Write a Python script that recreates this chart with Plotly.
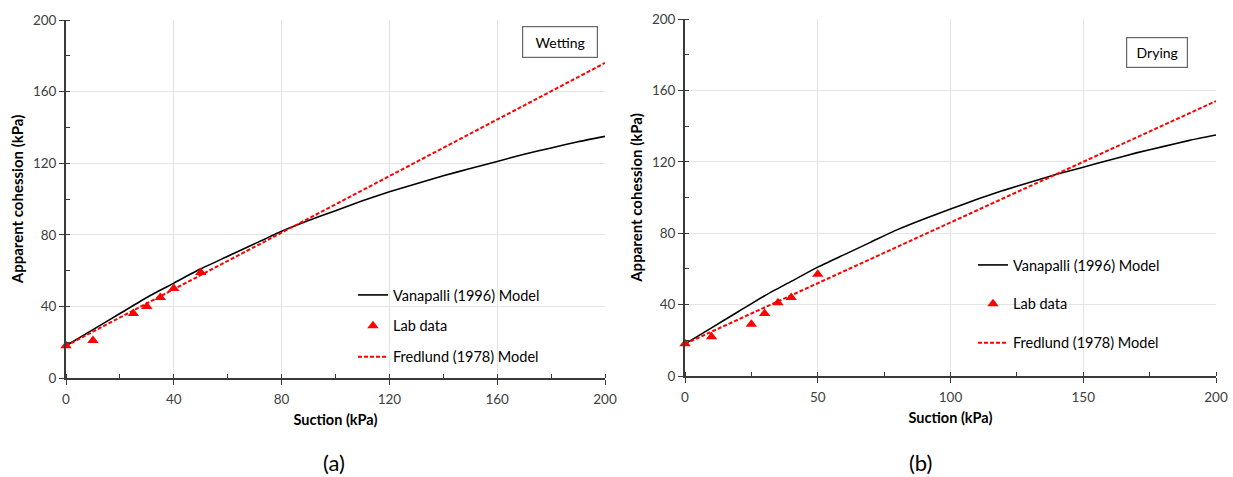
import plotly.graph_objects as go

# ---------------- data ----------------
suction_lab = [0, 10, 25, 30, 35, 40, 50]
cohesion_lab_wetting = [18, 21, 36, 40, 45, 50, 59]
cohesion_lab_drying = [18, 22, 29, 35, 41, 44, 57]

suction_model = [0, 10, 20, 30, 40, 50, 60, 70, 80, 90, 100, 110, 120, 130, 140,
                 150, 160, 170, 180, 190, 200]
cohesion_vanapalli = [18, 27, 36, 45, 53, 61, 68, 75, 82, 88, 93.5, 99, 104, 108.5,
                      113, 117, 121, 125, 128.5, 132, 135]

suction_fredlund = [0, 200]
cohesion_fredlund_wetting = [18, 176]
cohesion_fredlund_drying = [18, 154]

x_ticks_wetting = [0, 40, 80, 120, 160, 200]
x_ticks_drying = [0, 50, 100, 150, 200]
y_ticks = [0, 40, 80, 120, 160, 200]

# ---------------- figure ----------------
W, H = 1233, 477
FONT = "Lato"
TICKCOL = "#404040"
AXCOL = "#3a3a3a"
GRIDCOL = "#e4e4e4"

fig = go.Figure()

def add_panel(xa, ya, lab_y, fred_y, legend):
    fig.add_trace(go.Scatter(
        x=suction_model, y=cohesion_vanapalli, mode="lines",
        line=dict(color="black", width=1.6, shape="spline", smoothing=0.5),
        name="Vanapalli (1996) Model", xaxis=xa, yaxis=ya,
        legend=legend, legendgroup=legend + "v"))
    fig.add_trace(go.Scatter(
        x=suction_lab, y=lab_y, mode="markers",
        marker=dict(symbol="triangle-up", color="#ff0000", size=10),
        name="Lab data", xaxis=xa, yaxis=ya, cliponaxis=False,
        legend=legend, legendgroup=legend + "l"))
    fig.add_trace(go.Scatter(
        x=suction_fredlund, y=fred_y, mode="lines",
        line=dict(color="#ff0000", width=2, dash="4px,2px"),
        name="Fredlund (1978) Model", xaxis=xa, yaxis=ya,
        legend=legend, legendgroup=legend + "f"))

add_panel("x", "y", cohesion_lab_wetting, cohesion_fredlund_wetting, "legend")
add_panel("x2", "y2", cohesion_lab_drying, cohesion_fredlund_drying, "legend2")

def px(x):
    return x / W

def py(y):
    return 1 - y / H

common_x = dict(range=[0, 200], showgrid=True, gridcolor=GRIDCOL, gridwidth=1,
                showline=True, linecolor=AXCOL, linewidth=1.8,
                ticks="outside", ticklen=5, tickwidth=1, tickcolor=AXCOL,
                tickfont=dict(family=FONT, size=13.5, color=TICKCOL),
                ticklabelstandoff=3,
                zeroline=False, mirror=False, automargin=False,
                title=dict(text="<b>Suction (kPa)</b>",
                           font=dict(family=FONT, size=14.5, color="black"),
                           standoff=9))
common_y = dict(range=[0, 200], showgrid=True, gridcolor=GRIDCOL, gridwidth=1,
                showline=True, linecolor=AXCOL, linewidth=1.8,
                ticks="outside", ticklen=5, tickwidth=1, tickcolor=AXCOL,
                tickfont=dict(family=FONT, size=13.5, color=TICKCOL),
                tickvals=y_ticks, automargin=False,
                minor=dict(dtick=20, ticks="inside", ticklen=4, tickcolor=AXCOL,
                           showgrid=False),
                zeroline=False,
                title=dict(text="<b>Apparent cohession (kPa)</b>",
                           font=dict(family=FONT, size=15, color="black"),
                           standoff=6))

fig.update_layout(
    width=W, height=H,
    margin=dict(l=0, r=0, t=0, b=0, autoexpand=False),
    paper_bgcolor="white", plot_bgcolor="white",
    showlegend=True,
    xaxis=dict(common_x, domain=[px(66), px(605)], anchor="y",
               tickvals=x_ticks_wetting,
               minor=dict(dtick=20, ticks="inside", ticklen=4, tickcolor=AXCOL,
                          showgrid=False)),
    yaxis=dict(common_y, domain=[py(378), py(20)], anchor="x"),
    xaxis2=dict(common_x, domain=[px(685), px(1216)], anchor="y2",
                tickvals=x_ticks_drying,
                minor=dict(dtick=25, ticks="inside", ticklen=4, tickcolor=AXCOL,
                           showgrid=False)),
    yaxis2=dict(common_y, domain=[py(376), py(19)], anchor="x2"),
    legend=dict(x=px(353), y=py(279), xanchor="left", yanchor="top",
                bgcolor="rgba(0,0,0,0)", itemwidth=30, tracegroupgap=9,
                traceorder="grouped",
                font=dict(family=FONT, size=14.5, color="black")),
    legend2=dict(x=px(973), y=py(249), xanchor="left", yanchor="top",
                 bgcolor="rgba(0,0,0,0)", itemwidth=30, tracegroupgap=17,
                 traceorder="grouped",
                 font=dict(family=FONT, size=14.5, color="black")),
    annotations=[
        dict(text="Wetting", xref="paper", yref="paper", x=px(560), y=py(42),
             xanchor="center", yanchor="middle", showarrow=False,
             font=dict(family=FONT, size=14, color="black"),
             width=70, height=26, bordercolor="#666666", borderwidth=1.2,
             borderpad=2, bgcolor="white"),
        dict(text="Drying", xref="paper", yref="paper", x=px(1157), y=py(52.5),
             xanchor="center", yanchor="middle", showarrow=False,
             font=dict(family=FONT, size=14, color="black"),
             width=56, height=25, bordercolor="#666666", borderwidth=1.2,
             borderpad=2, bgcolor="white"),
        dict(text="(a)", xref="paper", yref="paper", x=px(334), y=py(462),
             xanchor="center", yanchor="middle", showarrow=False,
             font=dict(family=FONT, size=22, color="black")),
        dict(text="(b)", xref="paper", yref="paper", x=px(920), y=py(462),
             xanchor="center", yanchor="middle", showarrow=False,
             font=dict(family=FONT, size=22, color="black")),
    ],
)

fig.write_html(
    "out.html",
    config={"displayModeBar": False},
    post_script="document.body.style.margin='0';"
                "document.body.style.overflow='hidden';",
)
